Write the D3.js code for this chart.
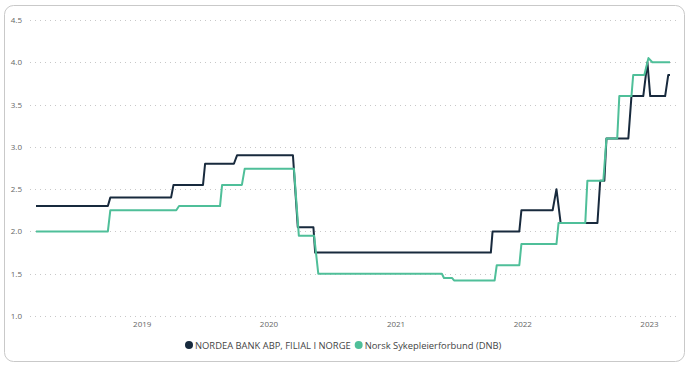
<!DOCTYPE html>
<html>
<head>
<meta charset="utf-8">
<script src="https://cdn.jsdelivr.net/npm/d3@7.9.0/dist/d3.min.js"></script>
<style>
  body { margin: 0; background: #fff; font-family: "Open Sans", "Noto Sans", sans-serif; }
  svg { display: block; }
</style>
</head>
<body>
<svg id="chart" width="694" height="371"></svg>
<script>
// Nordea rates (change points)
const nordeaDates = ["2018-03-01","2018-09-24","2018-10-01","2019-03-25","2019-04-01","2019-06-25","2019-07-01",
  "2019-09-22","2019-10-01","2020-03-10","2020-03-24","2020-05-08","2020-05-13","2021-10-01","2021-10-06",
  "2021-12-22","2021-12-28","2022-03-28","2022-04-08","2022-04-20","2022-08-04","2022-08-12","2022-08-24",
  "2022-08-30","2022-11-01","2022-11-10","2022-12-14","2022-12-26","2023-01-03","2023-02-15","2023-02-24","2023-03-01"];
const nordeaValues = [2.3,2.3,2.4,2.4,2.55,2.55,2.8,
  2.8,2.9,2.9,2.05,2.05,1.75,1.75,2.0,
  2.0,2.25,2.25,2.5,2.1,2.1,2.6,2.6,
  3.1,3.1,3.6,3.6,4.0,3.6,3.6,3.85,3.85];

// DNB (Norsk Sykepleierforbund) rates
const dnbDates = ["2018-03-01","2018-09-24","2018-10-01","2019-04-09","2019-04-17","2019-08-13","2019-08-19",
  "2019-10-15","2019-10-23","2020-03-13","2020-03-27","2020-05-10","2020-05-22","2021-05-13","2021-05-19",
  "2021-06-11","2021-06-17","2021-10-12","2021-10-18","2021-12-22","2021-12-28","2022-04-08","2022-04-14",
  "2022-06-30","2022-07-06","2022-08-21","2022-08-30","2022-09-30","2022-10-06","2022-11-10","2022-11-15",
  "2022-12-17","2022-12-29","2023-01-09","2023-03-01"];
const dnbValues = [2.0,2.0,2.25,2.25,2.3,2.3,2.55,
  2.55,2.74,2.74,1.95,1.95,1.5,1.5,1.45,
  1.45,1.42,1.42,1.6,1.6,1.85,1.85,2.1,
  2.1,2.6,2.6,3.1,3.1,3.6,3.6,3.85,
  3.85,4.05,4.0,4.0];

const seriesNames = ["NORDEA BANK ABP, FILIAL I NORGE", "Norsk Sykepleierforbund (DNB)"];
const seriesColors = ["#182a3d", "#4fbf99"];
const yTicks = [1.0, 1.5, 2.0, 2.5, 3.0, 3.5, 4.0, 4.5];
const xTickYears = [2019, 2020, 2021, 2022, 2023];

const parse = d3.timeParse("%Y-%m-%d");
const series = [
  nordeaDates.map((d, i) => ({ date: parse(d), value: nordeaValues[i] })),
  dnbDates.map((d, i) => ({ date: parse(d), value: dnbValues[i] }))
];

const svg = d3.select("#chart");

// card
svg.append("rect")
  .attr("x", 4.5).attr("y", 5.5).attr("width", 680).attr("height", 356)
  .attr("rx", 9).attr("fill", "#fff").attr("stroke", "#c9c9c9").attr("stroke-width", 1);

const x = d3.scaleTime()
  .domain([parse("2018-03-01"), parse("2023-03-01")])
  .range([36, 670]);
const y = d3.scaleLinear().domain([1, 4.5]).range([316, 20]);

// gridlines + y labels
const yg = svg.append("g");
yTicks.forEach(t => {
  yg.append("line")
    .attr("x1", 30).attr("x2", 676)
    .attr("y1", Math.round(y(t)) + 0.5).attr("y2", Math.round(y(t)) + 0.5)
    .attr("stroke", "#c8c8c8").attr("stroke-dasharray", "1,4");
  yg.append("text")
    .attr("x", 22).attr("y", y(t) + 3)
    .attr("text-anchor", "end")
    .attr("font-size", 8).attr("fill", "#666")
    .text(d3.format(".1f")(t));
});

// x labels
xTickYears.forEach(yr => {
  svg.append("text")
    .attr("x", x(new Date(yr, 0, 1))).attr("y", 327)
    .attr("text-anchor", "middle")
    .attr("font-size", 8).attr("fill", "#666")
    .text(yr);
});

const line = d3.line().x(d => x(d.date)).y(d => y(d.value));

// dark first, green drawn on top
[0, 1].forEach(i => {
  svg.append("path")
    .datum(series[i])
    .attr("d", line)
    .attr("fill", "none")
    .attr("stroke", seriesColors[i])
    .attr("stroke-width", 2)
    .attr("stroke-linejoin", "round");
});

// legend
const legend = svg.append("g").attr("transform", "translate(189,345)");
let lx = 0;
seriesNames.forEach((name, i) => {
  legend.append("circle").attr("cx", lx).attr("cy", 0).attr("r", 4).attr("fill", seriesColors[i]);
  const t = legend.append("text")
    .attr("x", lx + 6).attr("y", 3.5)
    .attr("font-size", 9.4).attr("fill", "#444")
    .text(name);
  lx += 6 + t.node().getComputedTextLength() + 8;
});
</script>
</body>
</html>
